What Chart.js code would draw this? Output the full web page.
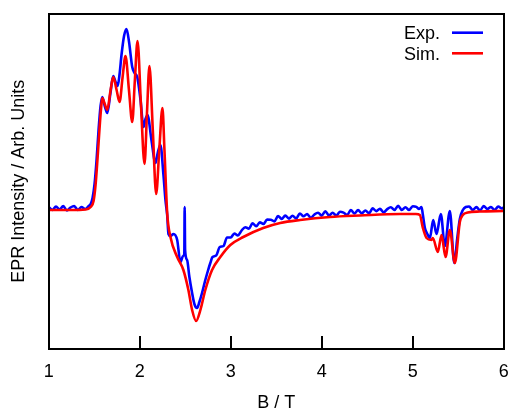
<!DOCTYPE html>
<html><head><meta charset="utf-8">
<script src="https://cdn.jsdelivr.net/npm/chart.js@4.4.0/dist/chart.umd.min.js"></script>
<style>html,body{margin:0;padding:0;background:#fff;} canvas{display:block;}</style>
</head><body>
<canvas id="c" width="513" height="414"></canvas>
<script>
const xTickValues = [1, 2, 3, 4, 5, 6];
const seriesNames = ['Exp.', 'Sim.'];

const simX = [1.000,1.241,1.406,1.461,1.493,1.515,1.537,1.559,1.576,1.589,1.616,1.644,1.677,1.709,1.746,1.779,1.811,1.844,1.882,1.918,1.947,1.976,2.014,2.053,2.080,2.107,2.144,2.181,2.215,2.250,2.272,2.302,2.338,2.412,2.480,2.535,2.576,2.620,2.667,2.721,2.795,2.886,2.996,3.138,3.357,3.544,3.763,4.092,4.421,4.860,5.035,5.079,5.112,5.152,5.207,5.221,5.276,5.317,5.361,5.408,5.463,5.518,5.551,5.605,5.737,6.000];
const simY = [-0.01,-0.01,-0.005,0.02,0.08,0.24,0.51,0.81,1.01,1.11,1.05,0.99,1.17,1.32,1.19,1.07,1.31,1.53,1.19,0.87,1.29,1.68,1.04,0.45,0.96,1.43,0.79,0.15,0.59,1.01,0.59,-0.04,-0.28,-0.48,-0.61,-0.81,-1.01,-1.12,-1.01,-0.81,-0.61,-0.48,-0.36,-0.28,-0.19,-0.14,-0.11,-0.08,-0.065,-0.05,-0.05,-0.06,-0.19,-0.29,-0.31,-0.29,-0.43,-0.26,-0.48,-0.21,-0.54,-0.13,-0.06,-0.035,-0.025,-0.02];

const expX = [1.00,1.04,1.08,1.12,1.16,1.20,1.24,1.28,1.32,1.36,1.40,1.44,
  1.461,1.482,1.504,1.526,1.548,1.570,1.589,1.616,1.644,1.677,1.709,1.735,1.757,1.779,1.800,1.828,1.855,1.883,1.918,1.943,1.973,2.009,2.042,2.064,2.086,2.129,2.173,2.200,2.228,2.261,2.283,2.302,2.316,2.338,2.371,2.412,2.447,2.477,2.490,2.494,2.499,2.521,2.546,2.576,2.601,2.630,2.656,2.685,2.721,2.749,2.776,
  2.80,2.84,2.88,2.92,2.96,3.00,3.04,3.08,3.12,3.16,3.20,3.24,3.28,3.32,3.36,3.40,3.44,3.48,3.52,3.56,3.60,3.64,3.68,3.72,3.76,3.80,3.84,3.88,3.92,3.96,4.00,4.04,4.08,4.12,4.16,4.20,4.24,4.28,4.32,4.36,4.40,4.44,4.48,4.52,4.56,4.60,4.64,4.68,4.72,4.76,4.80,4.84,4.88,4.92,4.96,5.00,5.04,5.07,
  5.097,5.112,5.134,5.161,5.189,5.225,5.262,5.309,5.353,5.408,5.457,5.490,5.518,5.551,5.583,
  5.62,5.66,5.70,5.74,5.78,5.82,5.86,5.90,5.94,5.98,6.00];
const expY = [0.02,-0.01,0.025,-0.005,0.03,-0.015,0.015,0.03,-0.01,0.02,0.0,0.03,
  0.05,0.11,0.25,0.49,0.79,1.03,1.12,1.03,0.96,1.15,1.33,1.27,1.23,1.35,1.54,1.73,1.80,1.67,1.42,1.36,1.32,1.09,0.82,0.90,0.94,0.69,0.46,0.57,0.64,0.34,0.09,-0.06,-0.25,-0.27,-0.25,-0.31,-0.53,-0.47,-0.45,0.02,-0.41,-0.51,-0.68,-0.84,-0.95,-0.99,-0.93,-0.84,-0.71,-0.62,-0.54,
  -0.48,-0.465,-0.38,-0.37,-0.285,-0.285,-0.245,-0.265,-0.215,-0.182,-0.197,-0.143,-0.173,-0.134,-0.15,-0.106,-0.107,-0.124,-0.07,-0.099,-0.065,-0.096,-0.068,-0.094,-0.045,-0.073,-0.05,-0.088,-0.055,-0.038,-0.066,-0.023,-0.066,-0.038,-0.066,-0.028,-0.036,-0.059,-0.011,-0.044,-0.011,-0.043,-0.015,-0.042,0.006,-0.021,0.003,-0.034,-0.001,0.017,-0.01,0.033,-0.009,0.018,-0.01,0.028,0.022,0.0,
  0.02,-0.06,-0.19,-0.25,-0.29,-0.11,-0.25,-0.05,-0.37,-0.02,-0.54,-0.29,-0.10,-0.01,0.02,
  0.025,-0.01,0.02,-0.015,0.03,0.0,0.02,-0.01,0.025,0.005,0.015];

const toPts = (xs, ys) => xs.map((x, i) => ({ x: x, y: ys[i] }));
const FONT = "'Liberation Sans', Arial, sans-serif";

const framePlugin = {
  id: 'frame',
  afterDraw(chart) {
    const { ctx, scales: { x, y } } = chart;
    ctx.save();
    ctx.fillStyle = '#000';
    const L = Math.round(x.getPixelForValue(1));
    const R = Math.round(x.getPixelForValue(6));
    const T = Math.round(y.getPixelForValue(y.max));
    const B = Math.round(y.getPixelForValue(y.min));
    ctx.fillRect(L - 1, T - 1, R - L + 2, 2);
    ctx.fillRect(L - 1, B - 1, R - L + 2, 2);
    ctx.fillRect(L - 1, T - 1, 2, B - T + 2);
    ctx.fillRect(R - 1, T - 1, 2, B - T + 2);
    xTickValues.forEach(v => {
      const px = Math.round(x.getPixelForValue(v));
      ctx.fillRect(px - 1, B - 13, 2, 13);
    });
    ctx.font = '18px ' + FONT;
    ctx.textAlign = 'right';
    ctx.textBaseline = 'alphabetic';
    chart.data.datasets.forEach((ds, i) => {
      const yy = 32.7 + i * 20.6;
      ctx.fillStyle = '#000';
      ctx.fillText(ds.label, 440, yy + 6.5);
      ctx.fillStyle = ds.borderColor;
      ctx.fillRect(452, yy - 1.3, 31, 2.6);
    });
    ctx.restore();
  }
};

new Chart(document.getElementById('c'), {
  type: 'line',
  data: {
    datasets: [
      { label: seriesNames[0], data: toPts(expX, expY), borderColor: '#0000ff', borderWidth: 2.6, pointRadius: 0, cubicInterpolationMode: 'monotone', order: 2 },
      { label: seriesNames[1], data: toPts(simX, simY), borderColor: '#ff0000', borderWidth: 2.6, pointRadius: 0, cubicInterpolationMode: 'monotone', order: 1 }
    ]
  },
  options: {
    responsive: false,
    animation: false,
    devicePixelRatio: 1,
    layout: { padding: { top: 13.5, right: 9.3, left: 0, bottom: 0 } },
    plugins: { legend: { display: false }, tooltip: { enabled: false } },
    scales: {
      x: {
        type: 'linear', min: 1, max: 6,
        ticks: { stepSize: 1, font: { family: FONT, size: 18 }, color: '#000', padding: 12.5 },
        grid: { display: false, drawTicks: false },
        border: { display: false },
        title: { display: true, text: 'B / T', font: { family: FONT, size: 18 }, color: '#000', padding: 0 },
        afterFit(s) { s.height = 65; s.paddingLeft = 0; s.paddingRight = 0; }
      },
      y: {
        type: 'linear', min: -1.4, max: 1.955,
        ticks: { display: false },
        grid: { display: false, drawTicks: false },
        border: { display: false },
        title: { display: true, text: 'EPR Intensity / Arb. Units', font: { family: FONT, size: 18 }, color: '#000', padding: { top: 8.7, bottom: 0 } },
        afterFit(s) { s.width = 48.7; }
      }
    }
  },
  plugins: [framePlugin]
});
</script>
</body></html>
